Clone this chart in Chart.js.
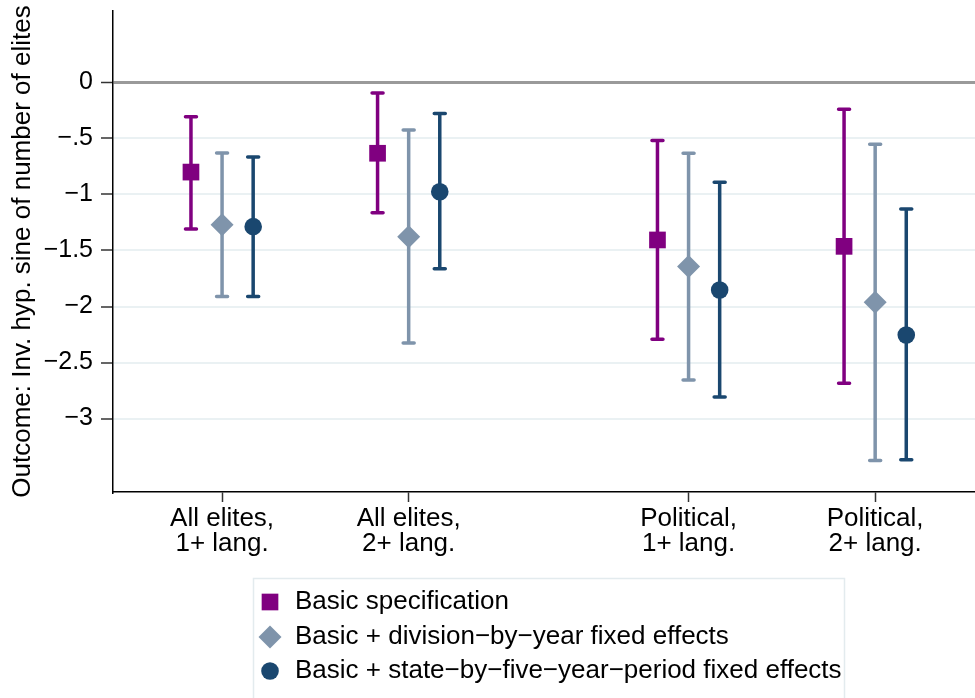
<!DOCTYPE html>
<html lang="en">
<head>
  <meta charset="utf-8">
  <title>Coefficient plot</title>
  <script src="https://cdn.jsdelivr.net/npm/chart.js"></script>
  <style>
    body { margin: 0; padding: 0; background: #fff; }
    #wrap { width: 975px; height: 698px; position: relative; }
  </style>
</head>
<body>
  <div id="wrap"><canvas id="coefChart" width="975" height="698"></canvas></div>

  <script>
    // categories and their place on the x axis
    const categories = [['All elites,', '1+ lang.'], ['All elites,', '2+ lang.'], ['Political,', '1+ lang.'], ['Political,', '2+ lang.']];
    const catPos = [1, 2, 3.5, 4.5];

    // series: estimate and 95% interval
    const seriesNames = ['Basic specification', 'Basic + division\u2212by\u2212year fixed effects', 'Basic + state\u2212by\u2212five\u2212year\u2212period fixed effects'];
    const seriesShift = [-1 / 6, 0, 1 / 6];

    const basicEst = [-0.80, -0.632, -1.406, -1.463];
    const basicLo  = [-1.308, -1.162, -2.293, -2.686];
    const basicHi  = [-0.305, -0.094, -0.519, -0.240];

    const divEst = [-1.27, -1.377, -1.644, -1.963];
    const divLo  = [-1.91, -2.326, -2.656, -3.374];
    const divHi  = [-0.63, -0.424, -0.632, -0.552];

    const stateEst = [-1.287, -0.975, -1.853, -2.254];
    const stateLo  = [-1.91, -1.662, -2.808, -3.368];
    const stateHi  = [-0.665, -0.278, -0.891, -1.129];

    // y ticks
    const yTicks = [0, -0.5, -1, -1.5, -2, -2.5, -3];
    const yTickLabels = ['0', '\u2212.5', '\u22121', '\u22121.5', '\u22122', '\u22122.5', '\u22123'];

    const FONT = "'Liberation Sans', Arial, sans-serif";
    const colors = ['#800080', '#7f94ab', '#1a476f'];
    const styles = ['rect', 'rectRot', 'circle'];
    const radii = [11.8, 11.5, 8.8];

    function points(est, lo, hi, shift) {
      return est.map((v, i) => ({ x: catPos[i] + shift, y: v, lo: lo[i], hi: hi[i] }));
    }

    const allSeries = [
      points(basicEst, basicLo, basicHi, seriesShift[0]),
      points(divEst, divLo, divHi, seriesShift[1]),
      points(stateEst, stateLo, stateHi, seriesShift[2])
    ];

    // whiskers under the markers
    const errorBars = {
      id: 'errorBars',
      beforeDatasetsDraw(chart) {
        const { ctx, scales: { x, y } } = chart;
        chart.data.datasets.forEach(ds => {
          ctx.save();
          ctx.strokeStyle = ds.backgroundColor;
          ctx.lineWidth = 3.5;
          ctx.lineCap = 'round';
          ds.data.forEach(p => {
            const px = x.getPixelForValue(p.x);
            const top = y.getPixelForValue(p.hi);
            const bot = y.getPixelForValue(p.lo);
            ctx.beginPath();
            ctx.moveTo(px, top); ctx.lineTo(px, bot);
            ctx.moveTo(px - 5.5, top); ctx.lineTo(px + 5.5, top);
            ctx.moveTo(px - 5.5, bot); ctx.lineTo(px + 5.5, bot);
            ctx.stroke();
          });
          ctx.restore();
        });
      }
    };

    // boxed legend, one entry per row
    const boxLegend = {
      id: 'boxLegend',
      afterDraw(chart) {
        const ctx = chart.ctx;
        ctx.save();
        ctx.fillStyle = '#fff';
        ctx.strokeStyle = '#e3ebee';
        ctx.lineWidth = 1.5;
        ctx.fillRect(253, 578, 592, 122);
        ctx.strokeRect(253.5, 578.5, 591, 122);
        const rows = [602, 637, 671];
        chart.data.datasets.forEach((ds, i) => {
          ctx.fillStyle = ds.backgroundColor;
          ctx.strokeStyle = ds.backgroundColor;
          ctx.lineWidth = 0;
          Chart.helpers.drawPoint(ctx, { pointStyle: styles[i], radius: radii[i], borderWidth: 0 }, 270, rows[i]);
          ctx.fillStyle = '#000';
          ctx.font = '26px ' + FONT;
          ctx.textBaseline = 'middle';
          ctx.textAlign = 'left';
          ctx.fillText(ds.label, 295, rows[i]);
        });
        ctx.restore();
      }
    };

    new Chart(document.getElementById('coefChart'), {
      type: 'scatter',
      data: {
        datasets: allSeries.map((d, i) => ({
          label: seriesNames[i],
          data: d,
          backgroundColor: colors[i],
          borderColor: colors[i],
          borderWidth: 0,
          pointStyle: styles[i],
          pointRadius: radii[i],
          pointHoverRadius: radii[i]
        }))
      },
      options: {
        responsive: false,
        animation: false,
        events: [],
        layout: { autoPadding: false, padding: { top: 11, right: 0, bottom: 0, left: 0 } },
        plugins: { legend: { display: false }, tooltip: { enabled: false } },
        scales: {
          x: {
            type: 'linear',
            min: 0.4155,
            max: 5.035,
            afterBuildTicks: s => { s.ticks = catPos.map(v => ({ value: v })); },
            afterFit: s => { s.height = 206; s.paddingLeft = 0; s.paddingRight = 0; },
            border: { display: true, color: '#000', width: 1.5 },
            grid: { drawOnChartArea: false, drawTicks: true, tickLength: 10, tickColor: '#333', tickWidth: 1.5 },
            ticks: {
              padding: 4,
              maxRotation: 0,
              autoSkip: false,
              color: '#000',
              font: { family: FONT, size: 26, lineHeight: 0.96 },
              callback: v => categories[catPos.indexOf(v)]
            }
          },
          y: {
            min: -3.656,
            max: 0.638,
            afterBuildTicks: s => { s.ticks = yTicks.map(v => ({ value: v })); },
            afterFit: s => { s.width = 113; s.paddingTop = 0; s.paddingBottom = 0; },
            border: { display: true, color: '#000', width: 1.5 },
            grid: {
              drawOnChartArea: true,
              drawTicks: true,
              tickLength: 12,
              color: c => c.tick && c.tick.value === 0 ? '#9a9a9a' : '#eaf1f3',
              lineWidth: c => c.tick && c.tick.value === 0 ? 3 : 2,
              tickColor: '#333',
              tickWidth: 1.5
            },
            ticks: {
              padding: 8,
              color: '#000',
              font: { family: FONT, size: 25 },
              callback: v => yTickLabels[yTicks.indexOf(v)]
            },
            title: {
              display: true,
              text: 'Outcome: Inv. hyp. sine of number of elites',
              color: '#000',
              font: { family: FONT, size: 26, lineHeight: 1 },
              padding: { top: 10, bottom: 0 }
            }
          }
        }
      },
      plugins: [errorBars, boxLegend]
    });
  </script>
</body>
</html>
